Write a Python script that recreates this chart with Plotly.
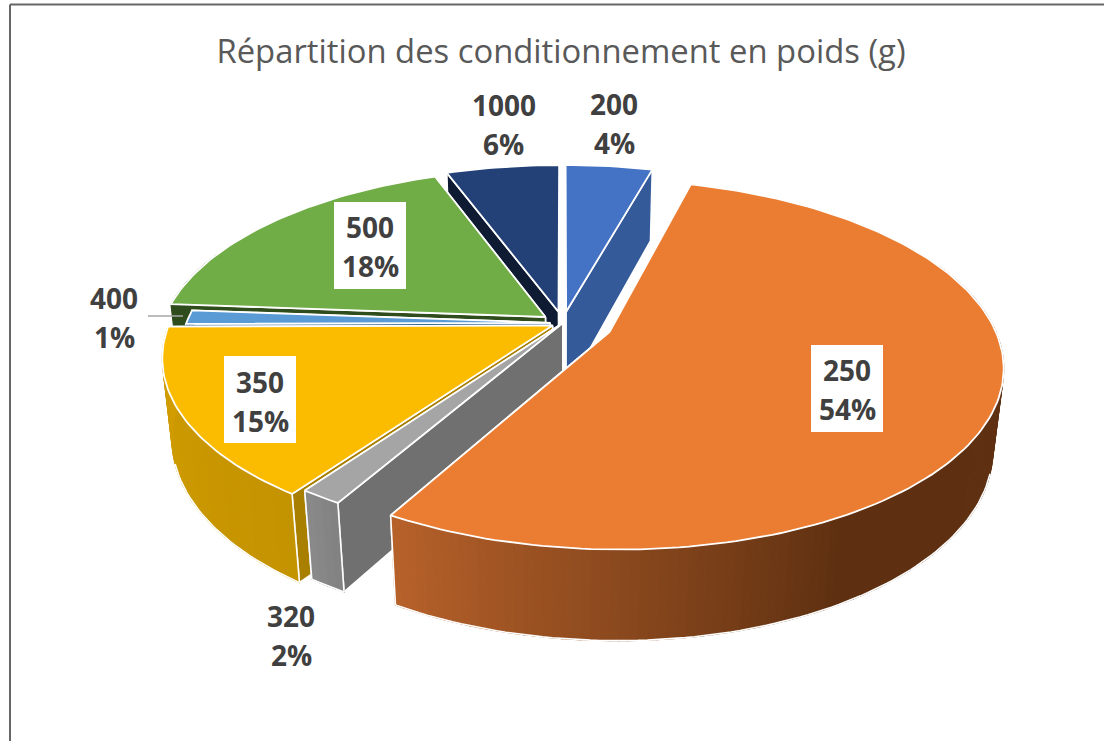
import numpy as np
import plotly.graph_objects as go

# --- data -------------------------------------------------------------
weights = ["200", "250", "320", "350", "400", "500", "1000"]
shares = [4.3, 54.0, 1.5, 15.1, 1.3, 18.2, 5.6]      # percent
percent_labels = ["4%", "54%", "2%", "15%", "1%", "18%", "6%"]
explode = [0.065, 0.131, 0.0, 0.03, 0.033, 0.057, 0.065]
TITLE = "Répartition des conditionnement en poids (g)"

# --- style ------------------------------------------------------------
top_col = ["#4472C4", "#EB7D32", "#A5A5A5", "#FBBC00", "#5B9BD5", "#70AD47", "#234177"]
cut_col = ["#345A9A", "#5E3011", "#707070", "#A97F00", "#3A6A96", "#2F4D1C", "#0E1B33"]
wall_stops = {
    "250": [(70, "#613314"), (150, "#5E3011"), (210, "#B8622B")],
    "320": [(208, "#7E7E7E"), (216, "#8C8C8C")],
    "350": [(214, "#C49300"), (300, "#DAA400")],
}
radius = {"400": 0.95}
draw_order = ["1000", "200", "500", "400", "350", "320", "250"]

W, H = 1104, 741
X0, Y0, R, KY, A, B, D = 562.8, 323.0, 383.0, 176.0, 0.175, 0.024, 82.0


def proj(X, Y, low=False):
    w = 1 + A * Y + (B if low else 0)
    return X0 + R * X / w, Y0 - KY * Y / w + (D / w if low else 0)


def rgb(h):
    return np.array([int(h[i:i + 2], 16) for i in (1, 3, 5)], float)


def col_at(stops, t):
    ts = [s[0] for s in stops]
    cs = np.array([rgb(s[1]) for s in stops])
    c = [np.interp(t, ts, cs[:, k]) for k in range(3)]
    return "rgb(%d,%d,%d)" % tuple(c)


fig = go.Figure()


def poly(pts, fill=None, line="white", lw=1.6):
    xs = [p[0] for p in pts]
    ys = [p[1] for p in pts]
    fig.add_trace(go.Scatter(
        x=xs, y=ys, mode="lines", fill="toself" if fill else "none",
        fillcolor=fill, line=dict(color=line, width=lw),
        hoverinfo="skip", showlegend=False))


edges = np.cumsum([0] + shares) * 3.6
for name in draw_order:
    i = weights.index(name)
    t0, t1 = edges[i], edges[i + 1]
    mid = np.radians((t0 + t1) / 2)
    ax, ay = explode[i] * np.sin(mid), explode[i] * np.cos(mid)
    r = radius.get(name, 1.0)

    def outer(t):
        a = np.radians(t)
        return ax + r * np.sin(a), ay + r * np.cos(a)

    n = max(int((t1 - t0) / 1.2), 3)
    ts = np.linspace(t0, t1, n + 1)

    # cut faces, the one nearest the viewer last
    for t in sorted((t0, t1), key=lambda v: -outer(v)[1]):
        o = outer(t)
        poly([proj(ax, ay), proj(*o), proj(*o, low=True), proj(ax, ay, low=True), proj(ax, ay)],
             fill=cut_col[i])

    # outer wall, shaded strip by strip (back part ends up hidden by the top face)
    front = [t for t in ts if np.cos(np.radians(t)) < 0.4]
    if len(front) > 1:
        stops = wall_stops.get(name, [(0, cut_col[i]), (360, cut_col[i])])
        for a, b in zip(front[:-1], front[1:]):
            oa, ob = outer(a), outer(b)
            c = col_at(stops, (a + b) / 2)
            poly([proj(*oa), proj(*ob), proj(*ob, low=True), proj(*oa, low=True), proj(*oa)],
                 fill=c, line=c, lw=1.2)
        seen = [t for t in front if np.cos(np.radians(t)) < -0.29]
        if seen:
            poly([proj(*outer(t), low=True) for t in seen], lw=1.6)
        for t in (t0, t1):
            if np.cos(np.radians(t)) < -0.3:
                o = outer(t)
                poly([proj(*o), proj(*o, low=True)], lw=1.6)

    # top face
    pts = [proj(ax, ay)] + [proj(*outer(t)) for t in ts] + [proj(ax, ay)]
    poly(pts, fill=top_col[i], lw=1.8)

# --- labels -----------------------------------------------------------
label_lines = {   # centre x, first-line y, second-line y
    "200": (614, 104, 143), "1000": (504, 105, 144), "500": (370, 227, 266),
    "400": (114, 298, 337), "350": (260, 382, 421), "320": (291, 616, 655),
    "250": (847, 370, 409),
}
label_boxes = {"500": (334, 202, 406, 289), "350": (224, 356, 296, 443), "250": (811, 345, 883, 432)}
annotations = []
for name, pct in zip(weights, percent_labels):
    px, y1, y2 = label_lines[name]
    for txt, py in ((name, y1), (pct, y2)):
        annotations.append(dict(
            x=px / W, y=1 - py / H, xref="paper", yref="paper", showarrow=False,
            text=txt, align="center", xanchor="center", yanchor="middle",
            font=dict(family="Open Sans", size=28, color="#404040", weight="bold")))


def line(x0, y0, x1, y1, color, w):
    return dict(type="line", xref="paper", yref="paper", x0=x0 / W, x1=x1 / W,
                y0=1 - y0 / H, y1=1 - y1 / H, line=dict(color=color, width=w))


shapes = [
    line(10, 741, 10, 4.5, "#666666", 2),
    line(10, 4.5, 1104, 4.5, "#666666", 2),
    line(148, 316, 183, 316, "#A6A6A6", 1.5),
]
for x0, y0, x1, y1 in label_boxes.values():
    shapes.append(dict(type="rect", xref="paper", yref="paper", x0=x0 / W, x1=x1 / W,
                       y0=1 - y0 / H, y1=1 - y1 / H, fillcolor="white", line=dict(width=0)))

fig.update_layout(
    width=W, height=H, margin=dict(l=0, r=0, t=0, b=0),
    paper_bgcolor="white", plot_bgcolor="white", showlegend=False,
    xaxis=dict(visible=False, range=[0, W], fixedrange=True),
    yaxis=dict(visible=False, range=[H, 0], fixedrange=True),
    title=dict(text=TITLE, x=561 / W, xanchor="center", y=1 - 52 / H, yanchor="middle",
               font=dict(family="Open Sans", size=32.8, color="#595959")),
    annotations=annotations, shapes=shapes,
)
fig.write_html("out.html", config={"displayModeBar": False},
               post_script="document.body.style.margin='0';document.documentElement.style.overflow='hidden';")
